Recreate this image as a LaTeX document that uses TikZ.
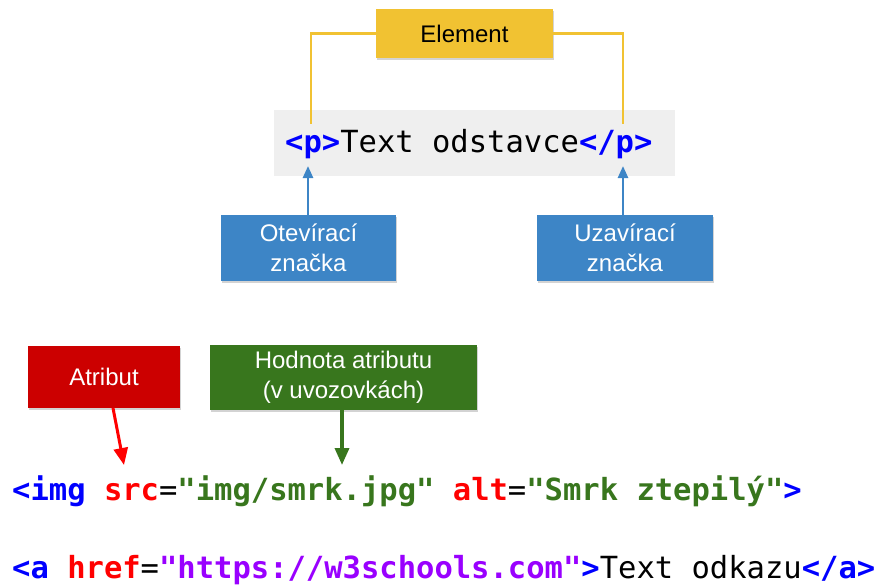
\documentclass[tikz,border=0pt]{standalone}
\usepackage{fontspec}
\usepackage{xcolor}
\usepackage{tikz}
\usetikzlibrary{
    arrows.meta,
    shadows
}
\setmainfont{Liberation Sans}
\newfontfamily\codefont{DejaVu Sans Mono}
\definecolor{elemyellow}{HTML}{F1C232}
\definecolor{tagblue}{HTML}{3D85C6}
\definecolor{attrred}{HTML}{CC0000}
\definecolor{valgreen}{HTML}{38761D}
\definecolor{codeblue}{HTML}{0000FF}
\definecolor{codered}{HTML}{FF0000}
\definecolor{codepurple}{HTML}{9900FF}
\definecolor{codegrey}{HTML}{EFEFEF}
\newcommand{\kw}[2]{\textcolor{#1}{\bfseries #2}}
\tikzset{
    labelbox/.style={inner sep=0pt, align=center, font=\fontsize{24}{30.5}\selectfont,
        drop shadow={opacity=0.35, shadow xshift=1pt, shadow yshift=-2pt}},
    codeline/.style={inner sep=0pt, anchor=base west, font=\codefont\fontsize{30.5}{36}\selectfont},
    elemline/.style={elemyellow, line width=2.5pt},
    tagarrow/.style={tagblue, line width=2.5pt, -{Triangle[width=10pt, length=12pt]}}
}

\begin{document}
\begin{tikzpicture}[x=1pt, y=-1pt]
            \useasboundingbox (0,0) rectangle (878,587);
            
            % p element
            \node[fill=codegrey, minimum width=401pt, minimum height=66pt, inner sep=0pt] (pbox) at (474.5,142.5) {};
            \node[codeline] (pcode) at (285,152) {\kw{codeblue}{<p>}Text odstavce\kw{codeblue}{</p>}};
            
            \coordinate (popen) at (311,124);
            \coordinate (pclose) at (623,124);
            \coordinate (openhead) at (308,166);
            \coordinate (closehead) at (623,166);
            
            \node[labelbox, fill=elemyellow, minimum width=177pt, minimum height=49pt] (element) at (464.5,33.5) {Element};
            \node[labelbox, fill=tagblue, text=white, minimum width=175pt, minimum height=66pt] (opentag) at (308.5,248) {Otevírací\\značka};
            \node[labelbox, fill=tagblue, text=white, minimum width=176pt, minimum height=66pt] (closetag) at (625,248) {Uzavírací\\značka};
            
            \draw[elemline] (element.west) -| (popen);
            \draw[elemline] (element.east) -| (pclose);
            \draw[tagarrow] (opentag.north -| openhead) -- (openhead);
            \draw[tagarrow] (closetag.north -| closehead) -- (closehead);
            
            % attributes
            \node[labelbox, fill=attrred, text=white, minimum width=152pt, minimum height=62pt] (attr) at (104,377) {Atribut};
            \node[labelbox, fill=valgreen, text=white, minimum width=267pt, minimum height=65pt] (value) at (343.5,377.5) {Hodnota atributu\\(v uvozovkách)};
            
            \coordinate (attrtail) at (113,408);
            \coordinate (attrhead) at (124,465);
            \coordinate (valuehead) at (342,465);
            
            \draw[codered, line width=3pt, -{Triangle[width=14pt, length=17pt]}] (attrtail) -- (attrhead);
            \draw[valgreen, line width=3.5pt, -{Triangle[width=14pt, length=17pt]}] (value.south -| valuehead) -- (valuehead);
            
            \node[codeline] (imgcode) at (12,500) {\kw{codeblue}{<img} \kw{codered}{src}=\kw{valgreen}{"img/smrk.jpg"} \kw{codered}{alt}=\kw{valgreen}{"Smrk ztepilý"}\kw{codeblue}{>}};
            \node[codeline] (acode) at (12,578) {\kw{codeblue}{<a} \kw{codered}{href}=\kw{codepurple}{"https://w3schools.com"}\kw{codeblue}{>}Text odkazu\kw{codeblue}{</a>}};
\end{tikzpicture}
\end{document}
